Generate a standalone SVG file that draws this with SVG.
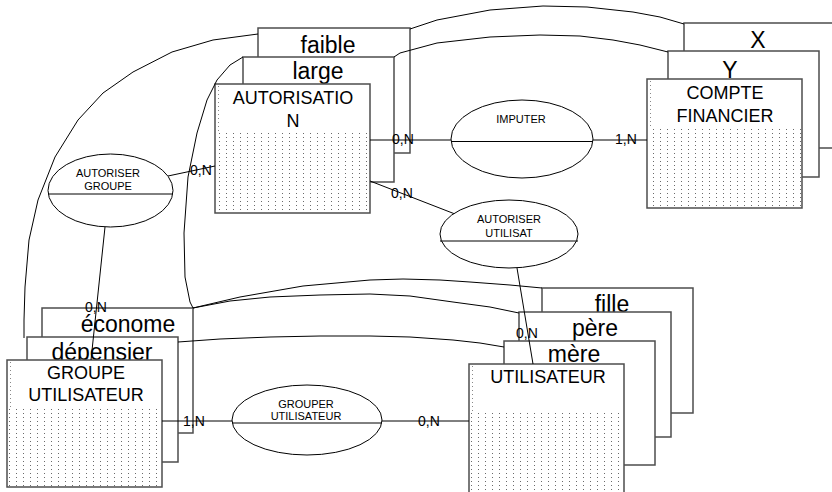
<svg xmlns="http://www.w3.org/2000/svg" width="832" height="492" viewBox="0 0 832 492">
<style>
.box{fill:#fff;stroke:#4d4d4d;stroke-width:1.5}
.dots{fill:url(#dots);stroke:none}
.dl{stroke:#888;stroke-width:1;stroke-dasharray:1 3}
.ell{fill:#fff;stroke:#000;stroke-width:1}
.sep{stroke:#000;stroke-width:1}
.lnk{fill:none;stroke:#000;stroke-width:1}
text{font-family:"Liberation Sans",Arial,sans-serif;fill:#000}
.var{font-size:23px;text-anchor:middle}
.ent{font-size:18px;text-anchor:middle}
.rel{font-size:11px;text-anchor:middle}
.card{font-size:14px}
</style>
<defs>
<pattern id="dots" x="0" y="0" width="7" height="4" patternUnits="userSpaceOnUse">
<rect x="2" y="1" width="1" height="1" fill="#6a6a6a"/>
</pattern>
</defs>

<g id="autorisation">
<rect class="box" x="258" y="28" width="152" height="125"/>
<text class="var" x="328" y="53">faible</text>
<rect class="box" x="243" y="57" width="151" height="125"/>
<text class="var" x="318" y="79">large</text>
<rect class="box" x="215" y="84" width="155" height="129"/>
<rect class="dots" x="216" y="132" width="153" height="80"/>
<line class="dl" x1="218.5" y1="86" x2="218.5" y2="132"/>
<text class="ent" x="293" y="104">AUTORISATIO</text>
<text class="ent" x="293" y="127">N</text>
</g>

<g id="compte-financier">
<rect class="box" x="684" y="23" width="180" height="125"/>
<text class="var" x="758" y="48">X</text>
<rect class="box" x="668" y="51" width="151" height="126"/>
<text class="var" x="730" y="78">Y</text>
<rect class="box" x="647" y="79" width="155" height="129"/>
<rect class="dots" x="648" y="128" width="153" height="79"/>
<line class="dl" x1="650.5" y1="81" x2="650.5" y2="128"/>
<text class="ent" x="725" y="99">COMPTE</text>
<text class="ent" x="725" y="122">FINANCIER</text>
</g>

<g id="groupe-utilisateur">
<rect class="box" x="42" y="308" width="151" height="125"/>
<text class="var" x="128" y="332">économe</text>
<rect class="box" x="27" y="337" width="151" height="125"/>
<text class="var" x="102" y="360">dépensier</text>
<rect class="box" x="7" y="360" width="155" height="127"/>
<rect class="dots" x="8" y="408" width="153" height="78"/>
<line class="dl" x1="10.5" y1="362" x2="10.5" y2="408"/>
<text class="ent" x="86" y="379">GROUPE</text>
<text class="ent" x="86" y="401">UTILISATEUR</text>
</g>

<g id="utilisateur">
<rect class="box" x="542" y="288" width="151" height="125"/>
<text class="var" x="612" y="312">fille</text>
<rect class="box" x="519" y="312" width="152" height="125"/>
<text class="var" x="595" y="336">père</text>
<rect class="box" x="504" y="341" width="151" height="124"/>
<text class="var" x="574" y="362">mère</text>
<rect class="box" x="469" y="364" width="155" height="140"/>
<rect class="dots" x="470" y="413" width="153" height="90"/>
<line class="dl" x1="472.5" y1="366" x2="472.5" y2="413"/>
<text class="ent" x="548" y="383">UTILISATEUR</text>
</g>

<g id="connectors">
<polyline class="lnk" points="258,34 213,40 172,52 133,72 103,93 78,120 55,157 38,200 29,240 25,287 24,320 24,338"/>
<polyline class="lnk" points="243,57 230,65 217,80 207,100 197,133 188,177 184,233 185,277 190,302 193,308"/>
<polyline class="lnk" points="193,308 240,297 303,286 370,280 403,279 440,280 470,282 510,285 542,288"/>
<polyline class="lnk" points="193,308 230,301 270,297 320,295 370,294 410,296 453,302 490,307 519,313"/>
<polyline class="lnk" points="178,342 220,339 270,337 320,336 370,336 410,337 453,340 480,343 504,347"/>
<polyline class="lnk" points="410,29 437,20 490,10 543,6 587,7 633,12 660,17 684,24"/>
<polyline class="lnk" points="394,57 400,53 437,43 490,37 540,35 580,36 613,40 640,45 668,52"/>
<line class="lnk" x1="370" y1="140" x2="451" y2="140"/>
<line class="lnk" x1="593" y1="140" x2="647" y2="140"/>
<line class="lnk" x1="370" y1="181" x2="455" y2="214"/>
<line class="lnk" x1="168" y1="176" x2="215" y2="166"/>
<line class="lnk" x1="105" y1="227" x2="91" y2="360"/>
<line class="lnk" x1="517" y1="268" x2="533" y2="364"/>
<line class="lnk" x1="162" y1="421" x2="232" y2="421"/>
<line class="lnk" x1="382" y1="421" x2="469" y2="421"/>
<text class="card" x="392" y="144">0,N</text>
<text class="card" x="615" y="144">1,N</text>
<text class="card" x="391" y="198">0,N</text>
<text class="card" x="190" y="175">0,N</text>
<text class="card" x="85" y="312">0,N</text>
<text class="card" x="516" y="338">0,N</text>
<text class="card" x="183" y="426">1,N</text>
<text class="card" x="418" y="426">0,N</text>
</g>

<g id="imputer">
<ellipse class="ell" cx="522" cy="139" rx="71" ry="39"/>
<line class="sep" x1="451" y1="141.5" x2="593" y2="141.5"/>
<text class="rel" x="521" y="123">IMPUTER</text>
</g>

<g id="autoriser-utilisat">
<ellipse class="ell" cx="509" cy="234" rx="69" ry="34"/>
<line class="sep" x1="440" y1="241" x2="578" y2="241"/>
<text class="rel" x="509" y="223">AUTORISER</text>
<text class="rel" x="509" y="237">UTILISAT</text>
</g>

<g id="autoriser-groupe">
<ellipse class="ell" cx="110.5" cy="190.5" rx="62.5" ry="36.5"/>
<line class="sep" x1="48" y1="194" x2="173" y2="194"/>
<text class="rel" x="108" y="177">AUTORISER</text>
<text class="rel" x="108" y="190">GROUPE</text>
</g>

<g id="grouper-utilisateur">
<ellipse class="ell" cx="307" cy="420" rx="75" ry="35"/>
<line class="sep" x1="232" y1="423" x2="382" y2="423"/>
<text class="rel" x="306" y="408">GROUPER</text>
<text class="rel" x="306" y="420">UTILISATEUR</text>
</g>
</svg>
